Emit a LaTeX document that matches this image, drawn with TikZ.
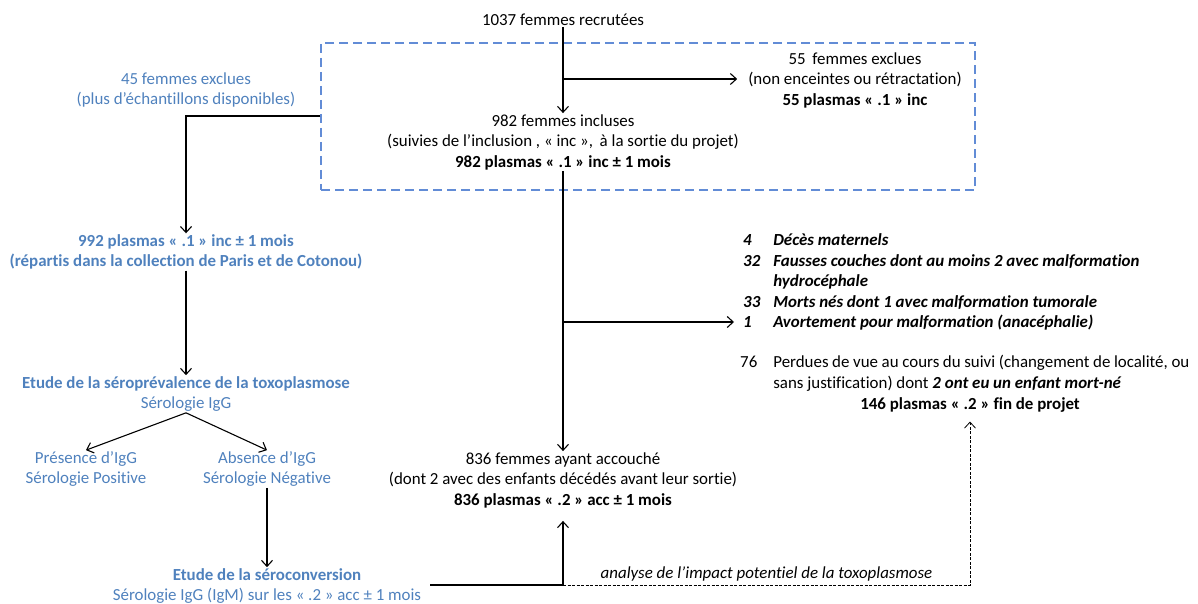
\documentclass[tikz,border=0pt]{standalone}
\usepackage{fontspec}
\setmainfont{Carlito}[Ligatures=NoCommon]
\usetikzlibrary{positioning,arrows.meta}
\definecolor{ptblue}{RGB}{79,129,189}
\definecolor{boxblue}{RGB}{98,140,214}
\begin{document}
\begin{tikzpicture}[x=1pt, y=-1pt,
    every node/.style={font=\fontsize{16.9}{20.5}\selectfont, align=center, inner sep=1pt},
    arr/.style={-{Straight Barb[length=6pt,width=11pt]}, line width=1.1pt},
    bl/.style={text=ptblue}]
    \useasboundingbox (0,0) rectangle (1198,604);
    % central column
    \node (recr) at (563,20) {1037 femmes recrutées};
    \node[draw=boxblue, line width=1.3pt, dash pattern=on 9pt off 5pt, minimum width=654pt, minimum height=147pt, inner sep=0pt] (grp) at (648,116.5) {};
    \node (incl) at (563,142) {982 femmes incluses\\(suivies de l’inclusion , « inc »,\, à la sortie du projet)\\\textbf{982 plasmas « .1 » inc ± 1 mois}};
    \node (excl) at (855,80) {55\, femmes exclues\\(non enceintes ou rétractation)\\\textbf{55 plasmas « .1 » inc}};
    \node (acc) at (563,480) {836 femmes ayant accouché\\(dont 2 avec des enfants décédés avant leur sortie)\\\textbf{836 plasmas « .2 » acc ± 1 mois}};
    \coordinate (b1) at (563,79);
    \coordinate (b2) at (563,322);
    \coordinate (j) at (563,585);
    \draw[arr] (recr) -- (incl);
    \draw[arr, shorten >=10pt] (b1) -- (b1 -| excl.west);
    \draw[arr] (incl) -- (acc);
    % left column
    \node[bl] (ex45) at (186,90) {45 femmes exclues\\(plus d’échantillons disponibles)};
    \node[bl] (p992) at (186,252) {\textbf{992 plasmas « .1 » inc ± 1 mois}\\\textbf{(répartis dans la collection de Paris et de Cotonou)}};
    \node[bl] (sero) at (186,394) {\textbf{Etude de la séroprévalence de la toxoplasmose}\\Sérologie IgG};
    \node[bl] (pos) at (86,469) {Présence d’IgG\\Sérologie Positive};
    \node[bl] (neg) at (267,469) {Absence d’IgG\\Sérologie Négative};
    \node[bl] (conv) at (267,586) {\textbf{Etude de la séroconversion}\\Sérologie IgG (IgM) sur les « .2 » acc ± 1 mois};
    \draw[arr] (grp.west |- 0,116) -| (p992.north);
    \draw[arr] (p992) -- (sero);
    \draw[arr] (sero.south) -- (pos.north);
    \draw[arr] (sero.south) -- (neg.north);
    \draw[arr] (neg) -- (conv);
    % right column
    \node[anchor=north west] (lst) at (742,230) {\bfseries\itshape
      \begin{tabular}{@{}l@{\hspace{13pt}}l@{}}
        4 & Décès maternels\\
        32 & Fausses couches dont au moins 2 avec malformation\\
           & hydrocéphale\\
        33 & Morts nés dont 1 avec malformation tumorale\\
        1 & Avortement pour malformation (anacéphalie)
      \end{tabular}};
    \node[anchor=north west] (lost) at (739,352) {%
      \begin{tabular}{@{}l@{\hspace{16pt}}l@{}}
        76 & \makebox[416pt][s]{Perdues de vue au cours du suivi (changement de localité, ou}\\
           & sans justification) dont \textbf{\textit{2 ont eu un enfant mort-né}}
      \end{tabular}};
    \node (fin) at (970,405) {\textbf{146 plasmas « .2 » fin de projet}};
    \draw[arr, shorten >=8pt] (b2) -- (b2 -| lst.west);
    % bottom links
    \draw[line width=1.1pt, shorten <=8pt] (conv.east |- j) -- (j);
    \draw[arr, shorten >=12pt] (j) -- (acc.south);
    \draw[arr, line width=0.8pt, dash pattern=on 3pt off 1.5pt, shorten >=8pt] (j) -| node[pos=0.25, above=2pt] {\textit{analyse de l’impact potentiel de la toxoplasmose}} (fin.south);
\end{tikzpicture}
\end{document}
